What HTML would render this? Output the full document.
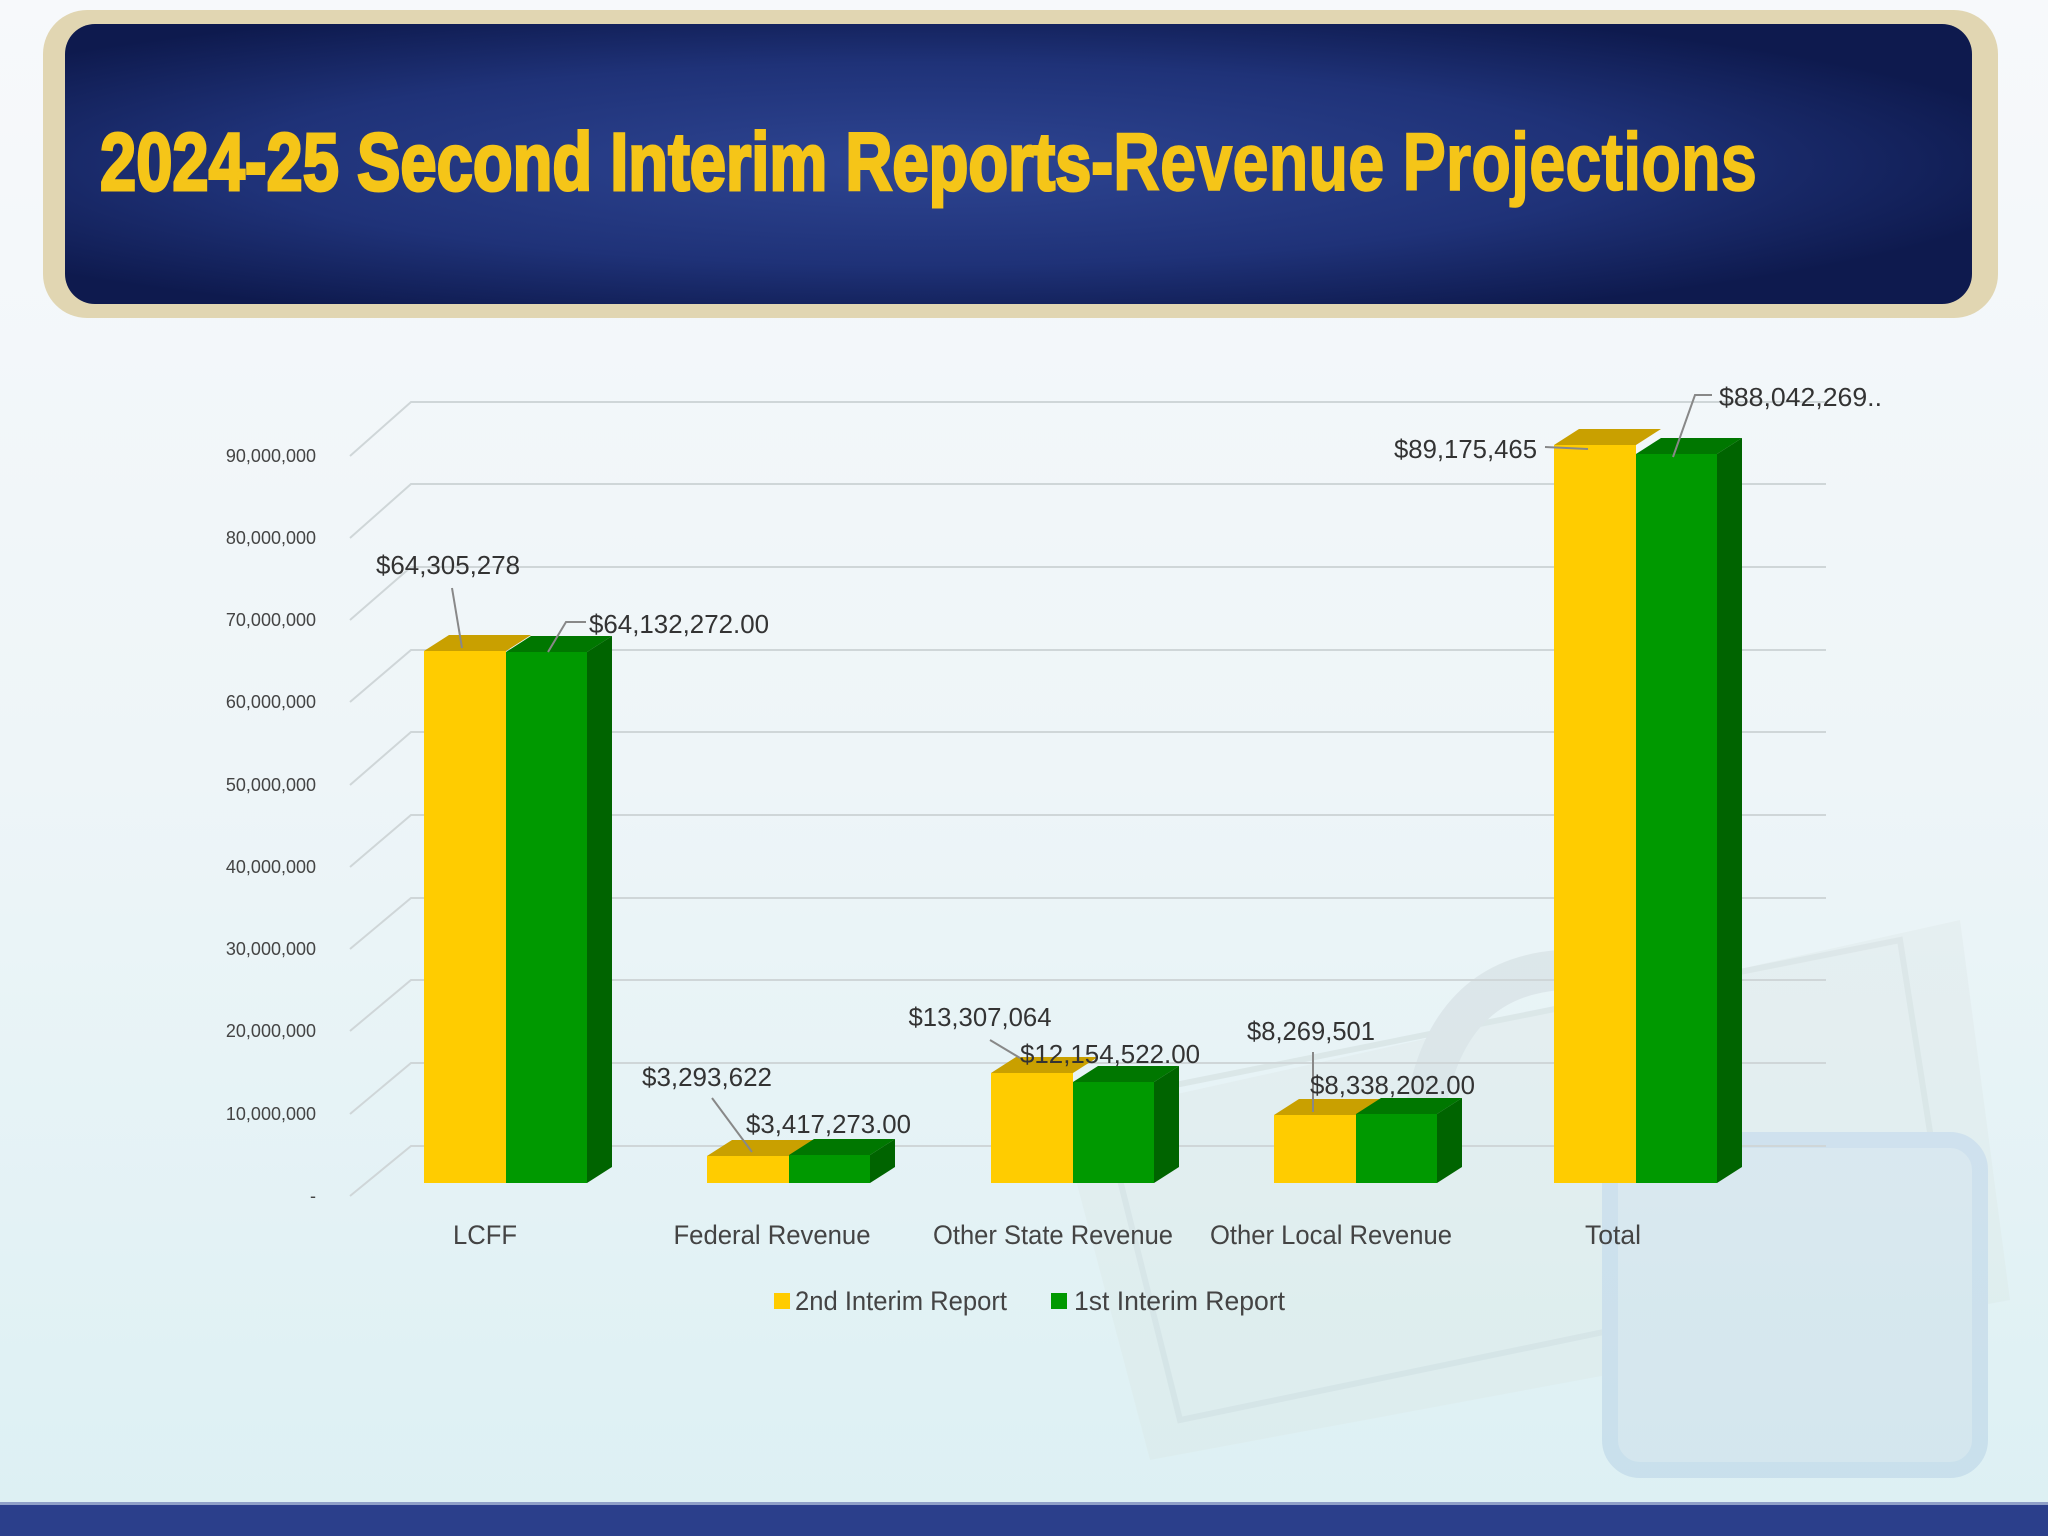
<!DOCTYPE html>
<html><head><meta charset="utf-8"><style>
html,body{margin:0;padding:0;width:2048px;height:1536px;overflow:hidden}
svg{display:block}
text{font-family:"Liberation Sans",Arial,sans-serif}
</style></head><body>
<svg width="2048" height="1536" viewBox="0 0 2048 1536" xmlns="http://www.w3.org/2000/svg">
<defs>
<linearGradient id="bg" x1="0" y1="0" x2="0" y2="1">
<stop offset="0" stop-color="#f7f9fb"/><stop offset="0.5" stop-color="#eef5f8"/><stop offset="1" stop-color="#dcf0f3"/>
</linearGradient>
<radialGradient id="navy" cx="0.45" cy="0.5" r="0.6">
<stop offset="0" stop-color="#2e4592"/><stop offset="0.6" stop-color="#1f3278"/><stop offset="1" stop-color="#0e1a4e"/>
</radialGradient>
</defs>
<rect width="2048" height="1536" fill="url(#bg)"/>
<!-- faint background money/padlock -->
<g opacity="0.25">
<polygon points="1060,1120 1960,920 2010,1300 1150,1460" fill="#d9e3e0"/>
<polygon points="1100,1100 1900,940 1950,1260 1180,1420" fill="none" stroke="#b8c4c2" stroke-width="6"/>
<path d="M1420,1180 Q1420,980 1560,970 Q1700,970 1700,1150" fill="none" stroke="#b9c2c6" stroke-width="40"/>
<rect x="1610" y="1140" width="370" height="330" rx="30" fill="#b9cbe0" stroke="#8fb0d8" stroke-width="16"/>
</g>
<!-- header -->
<rect x="43" y="10" width="1955" height="308" rx="44" fill="#e1d6b2"/>
<rect x="65" y="24" width="1907" height="280" rx="30" fill="url(#navy)"/>
<text x="100" y="190" font-size="82" font-weight="bold" fill="#f5c518" textLength="1657" lengthAdjust="spacingAndGlyphs" stroke="#f5c518" stroke-width="3">2024-25 Second Interim Reports-<tspan stroke-width="1.5">Revenue Projections</tspan></text>
<!-- bottom bar -->
<rect x="0" y="1504" width="2048" height="32" fill="#2b3f8b"/>
<rect x="0" y="1502" width="2048" height="3" fill="#8fa0c8"/>
<!-- gridlines -->
<g stroke="#cfd6d8" stroke-width="2" fill="none">
<path d="M350,1196 L411,1146 H1826"/>
<path d="M350,1114 L411,1063 H1826"/>
<path d="M350,1031 L411,980 H1826"/>
<path d="M350,949 L411,898 H1826"/>
<path d="M350,867 L411,815 H1826"/>
<path d="M350,785 L411,732 H1826"/>
<path d="M350,702 L411,650 H1826"/>
<path d="M350,620 L411,567 H1826"/>
<path d="M350,538 L411,484 H1826"/>
<path d="M350,456 L411,402 H1826"/>
</g>
<g font-size="18" fill="#444" text-anchor="end">
<text x="316" y="1202">-</text>
<text x="316" y="1120">10,000,000</text>
<text x="316" y="1037">20,000,000</text>
<text x="316" y="955">30,000,000</text>
<text x="316" y="873">40,000,000</text>
<text x="316" y="791">50,000,000</text>
<text x="316" y="708">60,000,000</text>
<text x="316" y="626">70,000,000</text>
<text x="316" y="544">80,000,000</text>
<text x="316" y="462">90,000,000</text>
</g>
<!-- bars -->
<g id="bars">
<polygon points="424,651 506,651 531,635 449,635" fill="#c9a000"/>
<rect x="424" y="651" width="82" height="532" fill="#ffcc00"/>
<polygon points="506,652 587,652 612,636 531,636" fill="#007700"/>
<rect x="506" y="652" width="81" height="531" fill="#009900"/>
<polygon points="587,652 612,636 612,1167 587,1183" fill="#006400"/>
<polygon points="707,1156 789,1156 814,1140 732,1140" fill="#c9a000"/>
<rect x="707" y="1156" width="82" height="27" fill="#ffcc00"/>
<polygon points="789,1155 870,1155 895,1139 814,1139" fill="#007700"/>
<rect x="789" y="1155" width="81" height="28" fill="#009900"/>
<polygon points="870,1155 895,1139 895,1167 870,1183" fill="#006400"/>
<polygon points="991,1073 1073,1073 1098,1057 1016,1057" fill="#c9a000"/>
<rect x="991" y="1073" width="82" height="110" fill="#ffcc00"/>
<polygon points="1073,1082 1154,1082 1179,1066 1098,1066" fill="#007700"/>
<rect x="1073" y="1082" width="81" height="101" fill="#009900"/>
<polygon points="1154,1082 1179,1066 1179,1167 1154,1183" fill="#006400"/>
<polygon points="1274,1115 1356,1115 1381,1099 1299,1099" fill="#c9a000"/>
<rect x="1274" y="1115" width="82" height="68" fill="#ffcc00"/>
<polygon points="1356,1114 1437,1114 1462,1098 1381,1098" fill="#007700"/>
<rect x="1356" y="1114" width="81" height="69" fill="#009900"/>
<polygon points="1437,1114 1462,1098 1462,1167 1437,1183" fill="#006400"/>
<polygon points="1554,445 1636,445 1661,429 1579,429" fill="#c9a000"/>
<rect x="1554" y="445" width="82" height="738" fill="#ffcc00"/>
<polygon points="1636,454 1717,454 1742,438 1661,438" fill="#007700"/>
<rect x="1636" y="454" width="81" height="729" fill="#009900"/>
<polygon points="1717,454 1742,438 1742,1167 1717,1183" fill="#006400"/>
</g>
<!-- leader lines -->
<g stroke="#888" stroke-width="2" fill="none">
<path d="M452,588 L462,648"/>
<path d="M586,622 H566 L548,652"/>
<path d="M712,1098 L752,1152"/>
<path d="M990,1040 L1020,1058"/>
<path d="M1313,1052 V1112"/>
<path d="M1545,447 L1588,449"/>
<path d="M1712,395 H1695 L1673,457"/>
</g>
<!-- data labels -->
<g font-size="26" fill="#333">
<text x="448" y="574" text-anchor="middle" textLength="144" lengthAdjust="spacingAndGlyphs">$64,305,278</text>
<text x="589" y="633" textLength="180" lengthAdjust="spacingAndGlyphs">$64,132,272.00</text>
<text x="707" y="1086" text-anchor="middle" textLength="130" lengthAdjust="spacingAndGlyphs">$3,293,622</text>
<text x="746" y="1133" textLength="165" lengthAdjust="spacingAndGlyphs">$3,417,273.00</text>
<text x="980" y="1026" text-anchor="middle" textLength="143" lengthAdjust="spacingAndGlyphs">$13,307,064</text>
<text x="1020" y="1063" textLength="180" lengthAdjust="spacingAndGlyphs">$12,154,522.00</text>
<text x="1311" y="1040" text-anchor="middle" textLength="128" lengthAdjust="spacingAndGlyphs">$8,269,501</text>
<text x="1310" y="1094" textLength="165" lengthAdjust="spacingAndGlyphs">$8,338,202.00</text>
<text x="1537" y="458" text-anchor="end" textLength="143" lengthAdjust="spacingAndGlyphs">$89,175,465</text>
<text x="1719" y="406" textLength="163" lengthAdjust="spacingAndGlyphs">$88,042,269..</text>
</g>
<!-- category labels -->
<g font-size="27" fill="#444" text-anchor="middle">
<text x="485" y="1244" textLength="64" lengthAdjust="spacingAndGlyphs">LCFF</text>
<text x="772" y="1244" textLength="197" lengthAdjust="spacingAndGlyphs">Federal Revenue</text>
<text x="1053" y="1244" textLength="240" lengthAdjust="spacingAndGlyphs">Other State Revenue</text>
<text x="1331" y="1244" textLength="242" lengthAdjust="spacingAndGlyphs">Other Local Revenue</text>
<text x="1613" y="1244" textLength="56" lengthAdjust="spacingAndGlyphs">Total</text>
</g>
<!-- legend -->
<rect x="774" y="1293" width="16" height="16" fill="#ffcc00"/>
<text x="795" y="1310" font-size="27" fill="#444" textLength="212" lengthAdjust="spacingAndGlyphs">2nd Interim Report</text>
<rect x="1051" y="1293" width="16" height="16" fill="#009900"/>
<text x="1074" y="1310" font-size="27" fill="#444" textLength="211" lengthAdjust="spacingAndGlyphs">1st Interim Report</text>
</svg>
</body></html>
